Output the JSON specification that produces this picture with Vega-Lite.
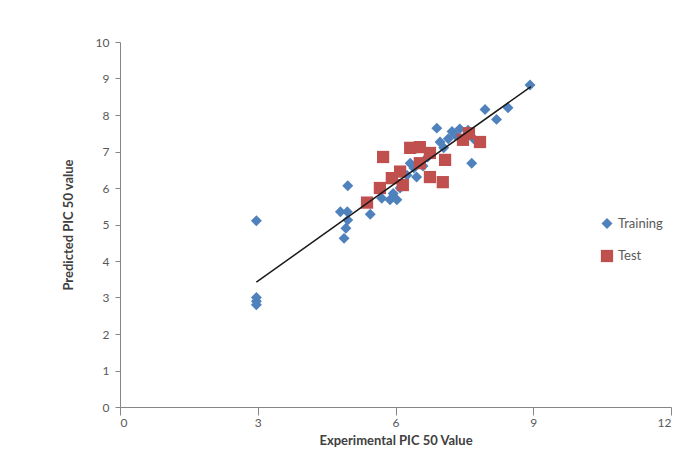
{
  "$schema": "https://vega.github.io/schema/vega-lite/v6.json",
  "width": 551,
  "height": 365,
  "autosize": "none",
  "padding": {"left": 120, "top": 42, "right": 18, "bottom": 68},
  "background": "white",
  "config": {
    "font": "Lato",
    "view": {"stroke": null},
    "axis": {"grid": false, "domainColor": "#868686", "tickColor": "#868686", "labelColor": "#595959", "labelFontSize": 12, "titleColor": "#404040", "titleFontSize": 13, "titleFontWeight": "bold", "labelFont": "Lato", "titleFont": "Lato", "labelOverlap": false}
  },
  "datasets": {
    "pts": [
      {"exp": 2.97, "pred": 5.1, "set": "Training"},
      {"exp": 2.97, "pred": 3.0, "set": "Training"},
      {"exp": 2.97, "pred": 2.9, "set": "Training"},
      {"exp": 2.97, "pred": 2.8, "set": "Training"},
      {"exp": 4.8, "pred": 5.35, "set": "Training"},
      {"exp": 4.92, "pred": 4.9, "set": "Training"},
      {"exp": 4.88, "pred": 4.62, "set": "Training"},
      {"exp": 4.96, "pred": 6.06, "set": "Training"},
      {"exp": 4.95, "pred": 5.35, "set": "Training"},
      {"exp": 4.96, "pred": 5.12, "set": "Training"},
      {"exp": 5.45, "pred": 5.28, "set": "Training"},
      {"exp": 5.7, "pred": 5.72, "set": "Training"},
      {"exp": 5.88, "pred": 5.68, "set": "Training"},
      {"exp": 6.03, "pred": 5.68, "set": "Training"},
      {"exp": 5.95, "pred": 5.85, "set": "Training"},
      {"exp": 6.1, "pred": 6.0, "set": "Training"},
      {"exp": 6.25, "pred": 6.35, "set": "Training"},
      {"exp": 6.32, "pred": 6.68, "set": "Training"},
      {"exp": 6.46, "pred": 6.3, "set": "Training"},
      {"exp": 6.4, "pred": 6.55, "set": "Training"},
      {"exp": 6.6, "pred": 6.6, "set": "Training"},
      {"exp": 6.7, "pred": 6.85, "set": "Training"},
      {"exp": 6.9, "pred": 7.64, "set": "Training"},
      {"exp": 6.97, "pred": 7.26, "set": "Training"},
      {"exp": 7.05, "pred": 7.1, "set": "Training"},
      {"exp": 7.15, "pred": 7.35, "set": "Training"},
      {"exp": 7.23, "pred": 7.55, "set": "Training"},
      {"exp": 7.4, "pred": 7.62, "set": "Training"},
      {"exp": 7.58, "pred": 7.58, "set": "Training"},
      {"exp": 7.3, "pred": 7.45, "set": "Training"},
      {"exp": 7.66, "pred": 6.68, "set": "Training"},
      {"exp": 7.7, "pred": 7.35, "set": "Training"},
      {"exp": 7.95, "pred": 8.15, "set": "Training"},
      {"exp": 8.2, "pred": 7.88, "set": "Training"},
      {"exp": 8.45, "pred": 8.2, "set": "Training"},
      {"exp": 8.93, "pred": 8.82, "set": "Training"},
      {"exp": 5.38, "pred": 5.6, "set": "Test"},
      {"exp": 5.66, "pred": 6.0, "set": "Test"},
      {"exp": 5.73, "pred": 6.85, "set": "Test"},
      {"exp": 5.92, "pred": 6.27, "set": "Test"},
      {"exp": 6.1, "pred": 6.45, "set": "Test"},
      {"exp": 6.16, "pred": 6.08, "set": "Test"},
      {"exp": 6.32, "pred": 7.1, "set": "Test"},
      {"exp": 6.53, "pred": 7.12, "set": "Test"},
      {"exp": 6.53, "pred": 6.68, "set": "Test"},
      {"exp": 6.75, "pred": 6.96, "set": "Test"},
      {"exp": 6.75, "pred": 6.3, "set": "Test"},
      {"exp": 7.03, "pred": 6.16, "set": "Test"},
      {"exp": 7.08, "pred": 6.77, "set": "Test"},
      {"exp": 7.47, "pred": 7.32, "set": "Test"},
      {"exp": 7.84, "pred": 7.26, "set": "Test"},
      {"exp": 7.6, "pred": 7.5, "set": "Test"}
    ],
    "fit": [
      {"exp": 2.97, "pred": 3.42},
      {"exp": 8.95, "pred": 8.78}
    ]
  },
  "encoding": {
    "x": {"field": "exp", "type": "quantitative", "scale": {"domain": [0, 12], "nice": false}, "axis": {"values": [0, 3, 6, 9, 12], "format": "d", "title": "Experimental  PIC 50 Value", "tickSize": 8, "labelPadding": 2, "titlePadding": 6}},
    "y": {"field": "pred", "type": "quantitative", "scale": {"domain": [0, 10], "nice": false}, "axis": {"values": [0, 1, 2, 3, 4, 5, 6, 7, 8, 9, 10], "format": "d", "tickCount": 20, "title": "Predicted PIC 50 value", "tickSize": 5, "labelPadding": 6, "titlePadding": 20}}
  },
  "layer": [
    {
      "data": {"name": "pts"},
      "mark": {"type": "point", "filled": true, "opacity": 1},
      "encoding": {
        "shape": {"field": "set", "type": "nominal", "scale": {"domain": ["Training", "Test"], "range": ["diamond", "square"]}, "legend": {"title": null, "orient": "none", "legendX": 480, "legendY": 175, "labelFontSize": 13, "labelColor": "#595959", "symbolSize": 100, "rowPadding": 18, "labelFont": "Lato"}},
        "color": {"field": "set", "type": "nominal", "scale": {"domain": ["Training", "Test"], "range": ["#4F81BD", "#C0504D"]}, "legend": {"title": null, "orient": "none", "legendX": 480, "legendY": 175, "labelFontSize": 13, "labelColor": "#595959", "symbolSize": 100, "rowPadding": 18, "labelFont": "Lato"}},
        "size": {"field": "set", "type": "nominal", "scale": {"domain": ["Training", "Test"], "range": [120, 150]}, "legend": null},
        "order": {"field": "set", "sort": "descending"}
      }
    },
    {
      "data": {"name": "fit"},
      "mark": {"type": "line", "color": "#1a1a1a", "strokeWidth": 1.5},
      "encoding": {}
    }
  ]
}
